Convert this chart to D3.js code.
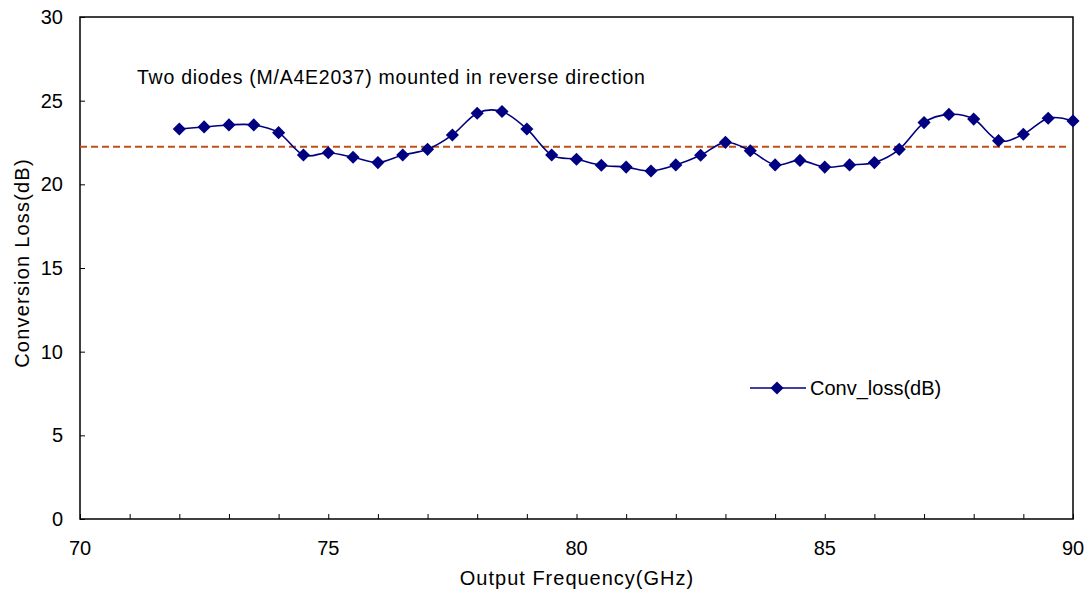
<!DOCTYPE html>
<html><head><meta charset="utf-8">
<script src="https://cdn.jsdelivr.net/npm/d3@7"></script>
<style>body{margin:0;background:#fff;} text{font-family:"Liberation Sans",Arial,sans-serif;fill:#000;}</style>
</head><body>
<svg id="chart" width="1090" height="597"></svg>
<script>
const frequencies = [72,72.5,73,73.5,74,74.5,75,75.5,76,76.5,77,77.5,78,78.5,79,79.5,80,80.5,81,81.5,82,82.5,83,83.5,84,84.5,85,85.5,86,86.5,87,87.5,88,88.5,89,89.5,90];
const convLoss = [23.31,23.43,23.55,23.55,23.09,21.75,21.89,21.62,21.3,21.75,22.09,22.95,24.25,24.35,23.31,21.75,21.5,21.14,21.03,20.8,21.16,21.74,22.51,22.01,21.16,21.43,21.03,21.16,21.3,22.09,23.69,24.18,23.9,22.61,22.99,23.95,23.79];
const averageLoss = 22.25;
const xTickLabels = [70,75,80,85,90];
const yTickLabels = [0,5,10,15,20,25,30];
const seriesName = "Conv_loss(dB)";
const annotation = "Two diodes (M/A4E2037) mounted in reverse direction";
const xTitle = "Output Frequency(GHz)";
const yTitle = "Conversion Loss(dB)";

const svg = d3.select("#chart");
const L = 80, R = 1073, T = 17, B = 519;
const x = d3.scaleLinear().domain([70,90]).range([L,R]);
const y = d3.scaleLinear().domain([0,30]).range([B,T]);

// frame
svg.append("rect").attr("x",L).attr("y",T).attr("width",R-L).attr("height",B-T)
  .attr("fill","none").attr("stroke","#000").attr("stroke-width",1.5);

// x axis ticks (inward)
const xAx = svg.append("g").attr("transform",`translate(0,${B})`)
  .call(d3.axisBottom(x).tickValues(d3.range(70,91,1)).tickSize(-5).tickFormat(""));
xAx.select(".domain").remove();
xAx.selectAll("line").attr("stroke","#000");
svg.append("g").selectAll("text").data(xTickLabels).join("text")
  .attr("x",d=>x(d)).attr("y",555).attr("text-anchor","middle")
  .attr("font-size",20).text(d=>d);

// y axis ticks (inward)
const yAx = svg.append("g").attr("transform",`translate(${L},0)`)
  .call(d3.axisLeft(y).tickValues(yTickLabels).tickSize(-5).tickFormat(""));
yAx.select(".domain").remove();
yAx.selectAll("line").attr("stroke","#000");
svg.append("g").selectAll("text").data(yTickLabels).join("text")
  .attr("x",63).attr("y",d=>y(d)+7).attr("text-anchor","end")
  .attr("font-size",20).text(d=>d);

// titles
svg.append("text").attr("x",577).attr("y",585).attr("text-anchor","middle")
  .attr("font-size",20).attr("letter-spacing",1).text(xTitle);
svg.append("text").attr("transform",`translate(29,263) rotate(-90)`)
  .attr("text-anchor","middle").attr("font-size",20).attr("letter-spacing",1.2).text(yTitle);

// annotation
svg.append("text").attr("x",137).attr("y",84).attr("font-size",19.5).attr("letter-spacing",0.75).text(annotation);

// average dashed line
svg.append("line").attr("x1",L).attr("x2",1069).attr("y1",y(averageLoss)).attr("y2",y(averageLoss))
  .attr("stroke","#C0501A").attr("stroke-width",2).attr("stroke-dasharray","7,4");

// series line
const data = frequencies.map((f,i)=>({f,v:convLoss[i]}));
const line = d3.line().x(d=>x(d.f)).y(d=>y(d.v)).curve(d3.curveCardinal.tension(0));
svg.append("path").datum(data).attr("d",line).attr("fill","none")
  .attr("stroke","#000080").attr("stroke-width",1.6);

const diamond = d3.symbol().type(d3.symbolDiamond2).size(110);
svg.append("g").selectAll("path").data(data).join("path")
  .attr("transform",d=>`translate(${x(d.f)},${y(d.v)})`)
  .attr("d",diamond).attr("fill","#000080");

// legend
svg.append("line").attr("x1",750).attr("x2",806).attr("y1",388).attr("y2",388)
  .attr("stroke","#000080").attr("stroke-width",1.6);
svg.append("path").attr("transform","translate(777,388)").attr("d",diamond).attr("fill","#000080");
svg.append("text").attr("x",810).attr("y",395).attr("font-size",20).text(seriesName);
</script>
</body></html>
